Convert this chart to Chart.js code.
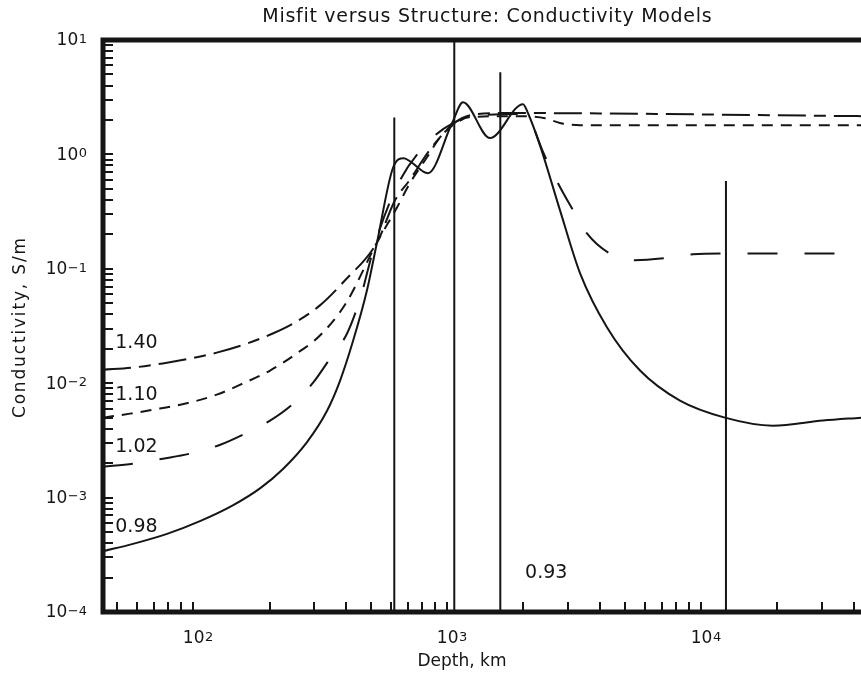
<!DOCTYPE html>
<html>
<head>
<meta charset="utf-8">
<script src="https://cdn.jsdelivr.net/npm/chart.js@4.4.1/dist/chart.umd.min.js"></script>
<style>
  html, body { margin: 0; padding: 0; background: #fff; overflow: hidden; }
</style>
</head>
<body>
<canvas id="chart" width="861" height="675"></canvas>
<script>
// depth in km, conductivity in S/m

// misfit 0.98 (solid)
const depth098 = [44.2, 58, 79, 107, 144, 184, 226, 281, 337, 379, 427, 484, 530, 612, 677, 720, 841, 1047, 1156, 1476, 1992, 2084, 2323, 2786, 3342, 4268, 5754, 8266, 12420, 19190, 30200, 42660]
const sigma098 = [3.4e-4, 3.94e-4, 4.82e-4, 6.26e-4, 8.6e-4, 1.21e-3, 1.78e-3, 3.06e-3, 5.75e-3, 1.05e-2, 2.36e-2, 0.065, 0.17, 0.757, 0.927, 0.86, 0.684, 1.88, 2.86, 1.39, 2.75, 2.29, 1.2, 0.324, 0.0912, 0.0307, 0.0129, 7.04e-3, 5.0e-3, 4.25e-3, 4.71e-3, 5.0e-3]

// misfit 1.02 (long dashes)
const depth102 = [44.2, 58, 76, 97, 128, 160, 201, 248, 297, 346, 404, 455, 525, 653, 857, 1056, 1349, 2000, 2100, 2388, 2735, 3104, 3556, 4383, 5500, 7213, 9304, 12220, 42660]
const sigma102 = [1.86e-3, 1.98e-3, 2.19e-3, 2.42e-3, 2.9e-3, 3.62e-3, 4.71e-3, 6.63e-3, 1.01e-2, 1.64e-2, 2.72e-2, 0.055, 0.177, 0.594, 1.33, 1.88, 2.2, 2.25, 2.1, 1.05, 0.56, 0.338, 0.204, 0.136, 0.119, 0.124, 0.134, 0.136, 0.136]

// misfit 1.10 (short dashes)
const depth110 = [44.2, 56.5, 74, 97, 124, 157, 201, 256, 316, 400, 530, 636, 714, 834, 938, 1056, 1232, 1937, 2432, 2786, 3342, 42660]
const sigma110 = [5.0e-3, 5.42e-3, 6.0e-3, 6.77e-3, 7.94e-3, 9.93e-3, 1.29e-2, 1.82e-2, 2.61e-2, 0.05, 0.17, 0.345, 0.56, 0.944, 1.41, 1.8, 2.12, 2.16, 2.07, 1.88, 1.8, 1.8]

// misfit 1.40 (dash dot)
const depth140 = [44.2, 58, 76, 97, 124, 163, 206, 248, 316, 396, 530, 624, 714, 857, 1056, 1232, 1700, 42660]
const sigma140 = [1.31e-2, 1.37e-2, 1.49e-2, 1.64e-2, 1.85e-2, 2.22e-2, 2.72e-2, 3.33e-2, 4.79e-2, 0.079, 0.17, 0.397, 0.6, 1.1, 1.84, 2.2, 2.3, 2.16]

// misfit 0.93: delta functions drawn as spikes
const spikeDepths = [620, 1068, 1621, 12540]
const spikeTops = [2.1, 10, 5.22, 0.586]

// misfit labels beside each model
const curveLabels = ["1.40", "1.10", "1.02", "0.98", "0.93"]
const labelDepths = [49.4, 49.4, 49.4, 49.4, 2029]
const labelSigmas = [0.0225, 0.0079, 0.00277, 0.000553, 0.000217]

const xDecades = [2, 3, 4]
const yDecades = [1, 0, -1, -2, -3, -4]

const ink = "#151515"
const font = "'DejaVu Sans', 'Liberation Sans', sans-serif"

const pts = (xs, ys) => xs.map((x, i) => ({ x: x, y: ys[i] }))

// draw text stretched with letter spacing to a given width (the original uses a wide plotter font)
function spacedText(ctx, text, cx, cy, width) {
    ctx.letterSpacing = "0px"
    const w0 = ctx.measureText(text).width
    const gap = Math.max(0, (width - w0) / text.length)
    ctx.letterSpacing = gap + "px"
    ctx.fillText(text, cx + gap / 2, cy)
    ctx.letterSpacing = "0px"
}

function supText(exp) {
    return exp < 0 ? "\u2212" + (-exp) : String(exp)
}

// "10" with a raised exponent
function powerLabel(ctx, exp, left, cy) {
    ctx.textAlign = "left"
    ctx.textBaseline = "middle"
    ctx.font = "17px " + font
    const wb = ctx.measureText("10").width
    ctx.fillText("10", left, cy)
    ctx.font = "13px " + font
    ctx.textBaseline = "top"
    ctx.fillText(supText(exp), left + wb + 0.5, cy - 8)
}

function powerWidth(ctx, exp) {
    ctx.font = "17px " + font
    const wb = ctx.measureText("10").width
    ctx.font = "13px " + font
    return wb + 0.5 + ctx.measureText(supText(exp)).width
}

const frame = {
    id: "frame",
    afterDraw(chart) {
        const { ctx, chartArea: a, scales } = chart
        const xs = scales.x
        const ys = scales.y
        ctx.save()
        ctx.strokeStyle = ink
        ctx.fillStyle = ink

        // minor and major ticks, pointing into the plot
        ctx.lineWidth = 2
        ctx.beginPath()
        for (let e = 1; e <= 4; e++) {
            for (let m = 1; m <= 9; m++) {
                const v = m * Math.pow(10, e)
                if (v < xs.min || v > xs.max) continue
                const px = Math.round(xs.getPixelForValue(v))
                ctx.moveTo(px, a.bottom)
                ctx.lineTo(px, a.bottom - 10)
            }
        }
        for (let e = -4; e <= 0; e++) {
            for (let m = 1; m <= 9; m++) {
                const v = m * Math.pow(10, e)
                if (v < ys.min || v > ys.max) continue
                const py = Math.round(ys.getPixelForValue(v))
                ctx.moveTo(a.left, py)
                ctx.lineTo(a.left + 10, py)
            }
        }
        ctx.stroke()

        // heavy axes: top, left, bottom (right side is cut off)
        ctx.lineWidth = 5
        ctx.lineJoin = "miter"
        ctx.beginPath()
        ctx.moveTo(chart.width + 5, a.top)
        ctx.lineTo(a.left, a.top)
        ctx.lineTo(a.left, a.bottom)
        ctx.lineTo(chart.width + 5, a.bottom)
        ctx.stroke()

        // tick labels
        xDecades.forEach((e) => {
            const px = xs.getPixelForValue(Math.pow(10, e))
            const w = powerWidth(ctx, e)
            powerLabel(ctx, e, px + 5 - w / 2, a.bottom + 27)
        })
        yDecades.forEach((e) => {
            const py = ys.getPixelForValue(Math.pow(10, e))
            const w = powerWidth(ctx, e)
            powerLabel(ctx, e, 87 - w, py + 1)
        })

        // curve labels
        ctx.font = "19px " + font
        ctx.textAlign = "left"
        ctx.textBaseline = "middle"
        curveLabels.forEach((t, i) => {
            ctx.fillText(t, xs.getPixelForValue(labelDepths[i]), ys.getPixelForValue(labelSigmas[i]))
        })

        // titles
        ctx.textAlign = "center"
        ctx.textBaseline = "middle"
        ctx.font = "19px " + font
        spacedText(ctx, "Misfit versus Structure: Conductivity Models", 487, 17, 450)
        ctx.font = "17px " + font
        spacedText(ctx, "Depth, km", 462, 662, 86)
        ctx.translate(21, (a.top + a.bottom) / 2 + 2)
        ctx.rotate(-Math.PI / 2)
        spacedText(ctx, "Conductivity, S/m", 0, 0, 182)
        ctx.restore()
    }
}

const line = (data, dash) => ({
    data: data,
    borderColor: ink,
    borderWidth: 2,
    borderDash: dash,
    pointRadius: 0,
    cubicInterpolationMode: "monotone",
    fill: false
})

const spikes = spikeDepths.flatMap((d, i) => [
    { x: d, y: 1e-4 },
    { x: d, y: spikeTops[i] },
    { x: d, y: null }
])

new Chart(document.getElementById("chart"), {
    type: "line",
    data: {
        datasets: [
            line(pts(depth140, sigma140), [28, 8, 12, 8]),
            line(pts(depth110, sigma110), [11, 8]),
            line(pts(depth102, sigma102), [30, 27]),
            line(pts(depth098, sigma098), []),
            { ...line(spikes, []), cubicInterpolationMode: "default", tension: 0, spanGaps: false }
        ]
    },
    options: {
        responsive: false,
        animation: false,
        layout: { padding: { left: 103, top: 40, right: 0, bottom: 63 } },
        plugins: { legend: { display: false }, tooltip: { enabled: false } },
        scales: {
            x: { type: "logarithmic", display: false, min: 44.2, max: 42660 },
            y: { type: "logarithmic", display: false, min: 1e-4, max: 10 }
        }
    },
    plugins: [frame]
})
</script>
</body>
</html>
